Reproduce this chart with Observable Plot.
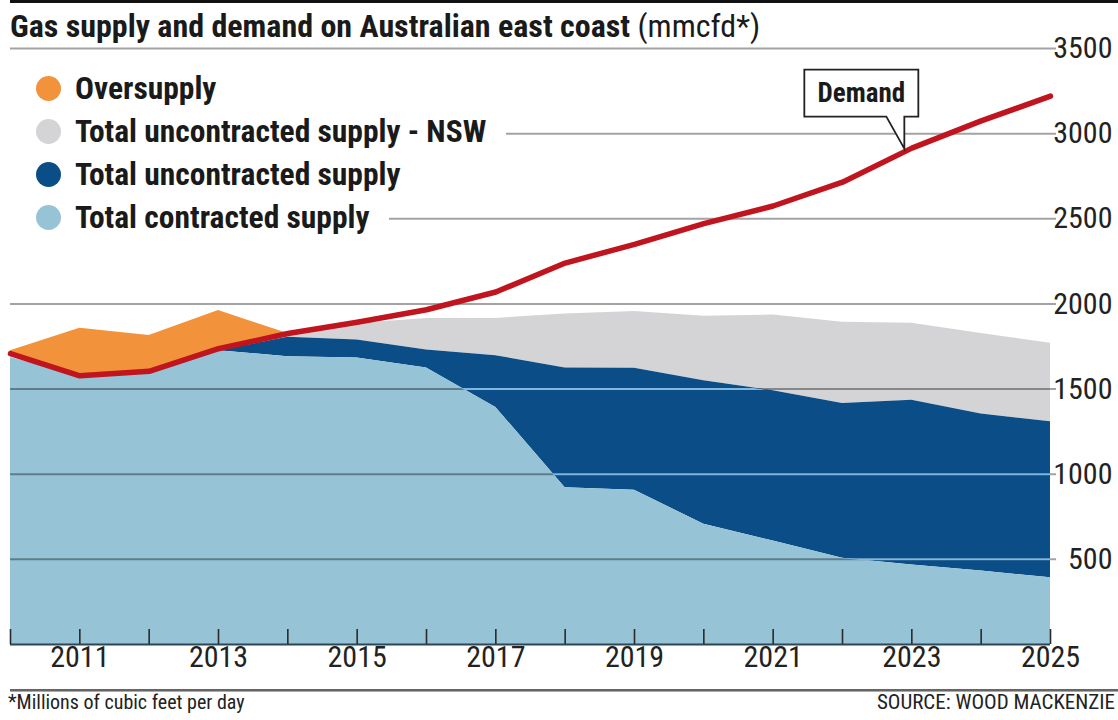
<!DOCTYPE html>
<html><head><meta charset="utf-8">
<script src="https://cdn.jsdelivr.net/npm/d3@7"></script>
<script src="https://cdn.jsdelivr.net/npm/@observablehq/plot@0.6"></script>
<style>
html,body{margin:0;padding:0;background:#fff;}
#wrap{position:relative;width:1118px;height:720px;overflow:hidden;font-family:"Liberation Sans Narrow","Roboto Condensed","DejaVu Sans Condensed","Arial Narrow",sans-serif;color:#1a1a1a;}
#chart{position:absolute;left:0;top:0;}
#chart svg{display:block;}
.topline{position:absolute;left:10px;right:0;top:0;height:3px;background:#111;}
.title{position:absolute;left:10px;top:10px;font-size:32px;line-height:32px;font-weight:bold;white-space:nowrap;}
.title span{font-weight:normal;}
.item{position:absolute;left:0;height:36px;display:flex;align-items:center;background:#fff;padding-right:20px;white-space:nowrap;font-size:31.5px;font-weight:bold;}
.sw{width:25px;height:25px;border-radius:50%;margin-left:35.5px;margin-right:14.5px;flex:none;}
.botline{position:absolute;left:10px;right:0;top:689px;height:0;border-top:2px solid #666;border-bottom:1px solid #aaa;}
.note{position:absolute;left:8px;top:692px;font-size:20px;line-height:20px;white-space:nowrap;color:#222;}
.source{position:absolute;right:3px;top:692px;font-size:21px;line-height:20px;white-space:nowrap;color:#222;}
</style>
</head><body>
<div id="wrap">
  <div id="chart"></div>
  <div class="topline"></div>
  <div class="title">Gas supply and demand on Australian east coast <span>(mmcfd*)</span></div>
  <div id="legend"></div>
  <div class="botline"></div>
  <div class="note">*Millions of cubic feet per day</div>
  <div class="source">SOURCE: WOOD MACKENZIE</div>
</div>
<script>
// ---- data (mmcfd) ----
const years        = [2010, 2011, 2012, 2013, 2014, 2015, 2016, 2017, 2018, 2019, 2020, 2021, 2022, 2023, 2024, 2025];
const demand       = [1708, 1578, 1604, 1737, 1826, 1892, 1966, 2070, 2240, 2350, 2472, 2575, 2715, 2915, 3075, 3220];
const contracted   = [1685, 1578, 1604, 1725, 1690, 1682, 1624, 1392,  921,  906,  706,  608,  506,  467,  431,  392];
const uncontracted = [   0,    0,    0,    0,  114,  106,  105,  304,  703,  716,  843,  882,  910,  968,  922,  916];
const nswUncontr   = [   0,    0,    0,    0,   22,   97,  186,  219,  317,  333,  378,  445,  476,  451,  474,  461];
const overYears    = [2010, 2011, 2012, 2013, 2014];
const oversupply   = [  17,  279,  210,  224,    0];
const yTicks       = [500, 1000, 1500, 2000, 2500, 3000, 3500];
const xLabelYears  = [2011, 2013, 2015, 2017, 2019, 2021, 2023, 2025];

const legendItems = [
  {label: "Oversupply", color: "#f2923a"},
  {label: "Total uncontracted supply - NSW", color: "#d4d4d6"},
  {label: "Total uncontracted supply", color: "#0a4d87"},
  {label: "Total contracted supply", color: "#96c3d6"}
];

// ---- tables built from arrays ----
const rows = years.map((year, i) => {
  const c = contracted[i], u = c + uncontracted[i], g = u + nswUncontr[i];
  return {year, c, u, g, d: demand[i]};
});
const overRows = overYears.map((year, i) => {
  const d = demand[years.indexOf(year)];
  return {year, d, top: d + oversupply[i]};
});

const font = '"Liberation Sans Narrow","Roboto Condensed","DejaVu Sans Condensed","Arial Narrow",sans-serif';

const chart = Plot.plot({
  width: 1118, height: 690,
  marginTop: 48, marginBottom: 46, marginLeft: 10, marginRight: 68,
  x: {domain: [2010, 2025], axis: null},
  y: {domain: [0, 3500], axis: null},
  style: {fontFamily: font, background: "transparent", overflow: "visible"},
  marks: [
    Plot.areaY(rows, {x: "year", y1: "u", y2: "g", fill: legendItems[1].color, ariaDescription: "nsw"}),
    Plot.areaY(rows, {x: "year", y1: "c", y2: "u", fill: legendItems[2].color, ariaDescription: "uncontracted"}),
    Plot.areaY(rows, {x: "year", y1: 0, y2: "c", fill: legendItems[3].color, ariaDescription: "contracted"}),
    Plot.areaY(overRows, {x: "year", y1: "d", y2: "top", fill: legendItems[0].color, ariaDescription: "oversupply"}),
    Plot.ruleY(yTicks, {y: d => d, stroke: "#000", strokeOpacity: 0.36, strokeWidth: 2, insetRight: -6, ariaDescription: "griddark"}),
    Plot.ruleY(yTicks, {y: d => d, stroke: "#80b8df", strokeWidth: 2, ariaDescription: "gridlight"}),
    Plot.ruleY([0], {stroke: "#2b4756", strokeWidth: 2}),
    Plot.ruleX(years, {x: d => d, y1: 0, y2: 0, insetTop: -15, stroke: "#2a2a2a", strokeWidth: 1.6}),
    Plot.line(rows, {x: "year", y: "d", stroke: "#c0141e", strokeWidth: 5.5, strokeLinecap: "round", strokeLinejoin: "round"}),
    Plot.text(yTicks, {y: d => d, text: d => String(d), frameAnchor: "right", dx: 62, textAnchor: "end", fontSize: 30, fill: "#222"}),
    Plot.text(xLabelYears, {x: d => d, text: d => String(d), frameAnchor: "bottom", dy: 22, fontSize: 30, fill: "#222"})
  ]
});
document.getElementById("chart").appendChild(chart);

// ---- light gridlines inside the dark-blue band ----
const ns = "http://www.w3.org/2000/svg";
let darkG = chart.querySelector('g[aria-description="uncontracted"]') || chart.querySelectorAll('g[aria-label="area"]')[1];
let lightG = chart.querySelector('g[aria-description="gridlight"]') || chart.querySelectorAll('g[aria-label="rule"]')[1];
if (darkG && lightG) {
  const src = darkG.querySelector("path");
  const defs = document.createElementNS(ns, "defs");
  const cp = document.createElementNS(ns, "clipPath");
  cp.setAttribute("id", "darkclip");
  const p = document.createElementNS(ns, "path");
  p.setAttribute("d", src.getAttribute("d"));
  const tr = darkG.getAttribute("transform");
  if (tr) p.setAttribute("transform", tr);
  cp.appendChild(p);
  defs.appendChild(cp);
  chart.insertBefore(defs, chart.firstChild);
  lightG.setAttribute("clip-path", "url(#darkclip)");
}

// ---- "Demand" callout anchored on the 2023 demand value ----
const xs = chart.scale("x"), ys = chart.scale("y");
const i23 = years.indexOf(2023);
const tx = xs.apply(2023) - 7, ty = ys.apply(demand[i23]) + 1;
const cg = document.createElementNS(ns, "g");
const box = document.createElementNS(ns, "path");
box.setAttribute("d", `M${tx-100},${ty-79}H${tx+14}V${ty-32}H${tx}L${tx},${ty}L${tx-18},${ty-32}H${tx-100}Z`);
box.setAttribute("fill", "#fff");
box.setAttribute("stroke", "#222");
box.setAttribute("stroke-width", "1.8");
box.setAttribute("stroke-linejoin", "miter");
cg.appendChild(box);
const t = document.createElementNS(ns, "text");
t.setAttribute("x", tx - 43);
t.setAttribute("y", ty - 55.5);
t.setAttribute("text-anchor", "middle");
t.setAttribute("dominant-baseline", "central");
t.setAttribute("font-size", "27");
t.setAttribute("font-weight", "bold");
t.setAttribute("font-family", font);
t.setAttribute("fill", "#1a1a1a");
t.textContent = "Demand";
cg.appendChild(t);
chart.appendChild(cg);

// ---- legend ----
const centers = [88, 131, 174, 217];
const lg = document.getElementById("legend");
legendItems.forEach((it, i) => {
  const row = document.createElement("div");
  row.className = "item";
  row.style.top = (centers[i] - 18) + "px";
  const sw = document.createElement("div");
  sw.className = "sw";
  sw.style.background = it.color;
  const tx2 = document.createElement("span");
  tx2.textContent = it.label;
  row.appendChild(sw); row.appendChild(tx2);
  lg.appendChild(row);
});
</script>
</body></html>
